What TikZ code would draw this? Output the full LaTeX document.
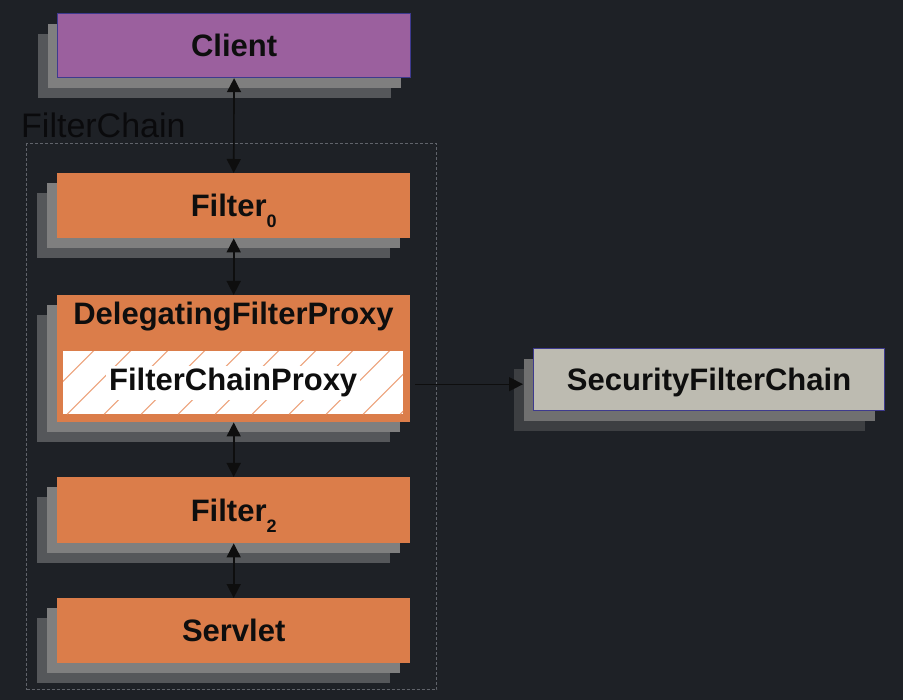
\documentclass[tikz,border=0pt]{standalone}
\usepackage{fontspec}
\setmainfont{Liberation Sans}
\usetikzlibrary{shadows,arrows.meta}
\definecolor{bg}{HTML}{1E2126}
\definecolor{shA}{HTML}{7F7F7F}
\definecolor{shB}{HTML}{55575A}
\definecolor{shC}{HTML}{707070}
\definecolor{shD}{HTML}{3D3F42}
\definecolor{orng}{HTML}{DB7D4A}
\definecolor{purp}{HTML}{9B609E}
\definecolor{beige}{HTML}{BDBBB1}
\definecolor{edge}{HTML}{3E3A8E}
\definecolor{txt}{HTML}{0E0E0E}
\definecolor{lbl}{HTML}{0A0A0C}
\definecolor{hatchc}{HTML}{EDA27A}
\definecolor{dashc}{HTML}{60636A}
\begin{document}
\begin{tikzpicture}[x=1pt,y=-1pt,
  box/.style={minimum width=353pt, minimum height=65pt, anchor=north west, inner sep=0pt,
    font=\fontsize{31}{36}\selectfont\bfseries, text=txt, text height=22pt, text depth=0pt,
    general shadow={shadow xshift=-20pt, shadow yshift=-20pt, fill=shB},
    general shadow={shadow xshift=-10pt, shadow yshift=-10pt, fill=shA}},
  sfcbox/.style={minimum width=351pt, minimum height=62pt, anchor=north west, inner sep=0pt,
    font=\fontsize{31}{36}\selectfont\bfseries, text=txt, text height=22pt, text depth=0pt,
    general shadow={shadow xshift=-20pt, shadow yshift=-20pt, fill=shD},
    general shadow={shadow xshift=-10pt, shadow yshift=-10pt, fill=shC},
    fill=beige, draw=edge, line width=1.2pt},
  ofill/.style={fill=orng},
  labeltxt/.style={font=\fontsize{31}{36}\selectfont\bfseries, text=txt, inner sep=0pt},
  hatchbox/.style={fill=white, minimum width=340pt, minimum height=63pt, anchor=north west, inner sep=0pt,
    path picture={\foreach \k in {0,...,11}{\draw[hatchc, line width=1pt]
      ([xshift={-70pt+37pt*\k}]path picture bounding box.south west) -- ++(80,-80);}}},
  biarrow/.style={{Triangle[width=14pt,length=14pt]}-{Triangle[width=14pt,length=14pt]}, line width=1.6pt, draw=txt, fill=txt},
  arr/.style={-{Triangle[width=14pt,length=14pt]}, line width=1.3pt, draw=txt, fill=txt},
  chainbox/.style={draw=dashc, line width=1.2pt, dash pattern=on 3pt off 2pt, anchor=north west,
    minimum width=410pt, minimum height=546pt, inner sep=0pt}
]
\useasboundingbox[fill=bg] (0,0) rectangle (903,700);

\node[chainbox] (chain) at (26,143) {};
\node[anchor=base west, inner sep=0pt, text=lbl, font=\fontsize{34}{38}\selectfont] (chainlbl) at (21,138) {FilterChain};

\node[box, fill=purp, draw=edge, line width=1.2pt, minimum height=64pt] (client) at (57,13) {Client};
\node[box, ofill] (f0) at (57,173) {Filter{\fontsize{18}{18}\selectfont\raisebox{-11pt}{0}}};
\node[box, ofill, minimum height=127pt] (dfp) at (57,295) {};
\node[labeltxt, anchor=base] (dfplbl) at (233.5,325) {DelegatingFilterProxy};
\node[hatchbox] (fcp) at (63,351) {};
\node[labeltxt, fill=white, inner sep=3pt, text height=22pt, text depth=6pt] (fcplbl) at (fcp.center) {FilterChainProxy};
\node[box, ofill, minimum height=66pt] (f2) at (57,477) {Filter{\fontsize{18}{18}\selectfont\raisebox{-11pt}{2}}};
\node[box, ofill] (servlet) at (57,598) {Servlet};

\node[sfcbox] (sfc) at (533,348) {SecurityFilterChain};

\draw[biarrow] (client.south) -- (f0.north);
\draw[biarrow] (f0.south) -- (dfp.north);
\draw[biarrow] (dfp.south) -- (f2.north);
\draw[biarrow] (f2.south) -- (servlet.north);
\draw[arr] ([xshift=12pt,yshift=-1.5pt]fcp.east) -- ([xshift=-10pt,yshift=-1.5pt]fcp.east -| sfc.west);
\end{tikzpicture}
\end{document}
